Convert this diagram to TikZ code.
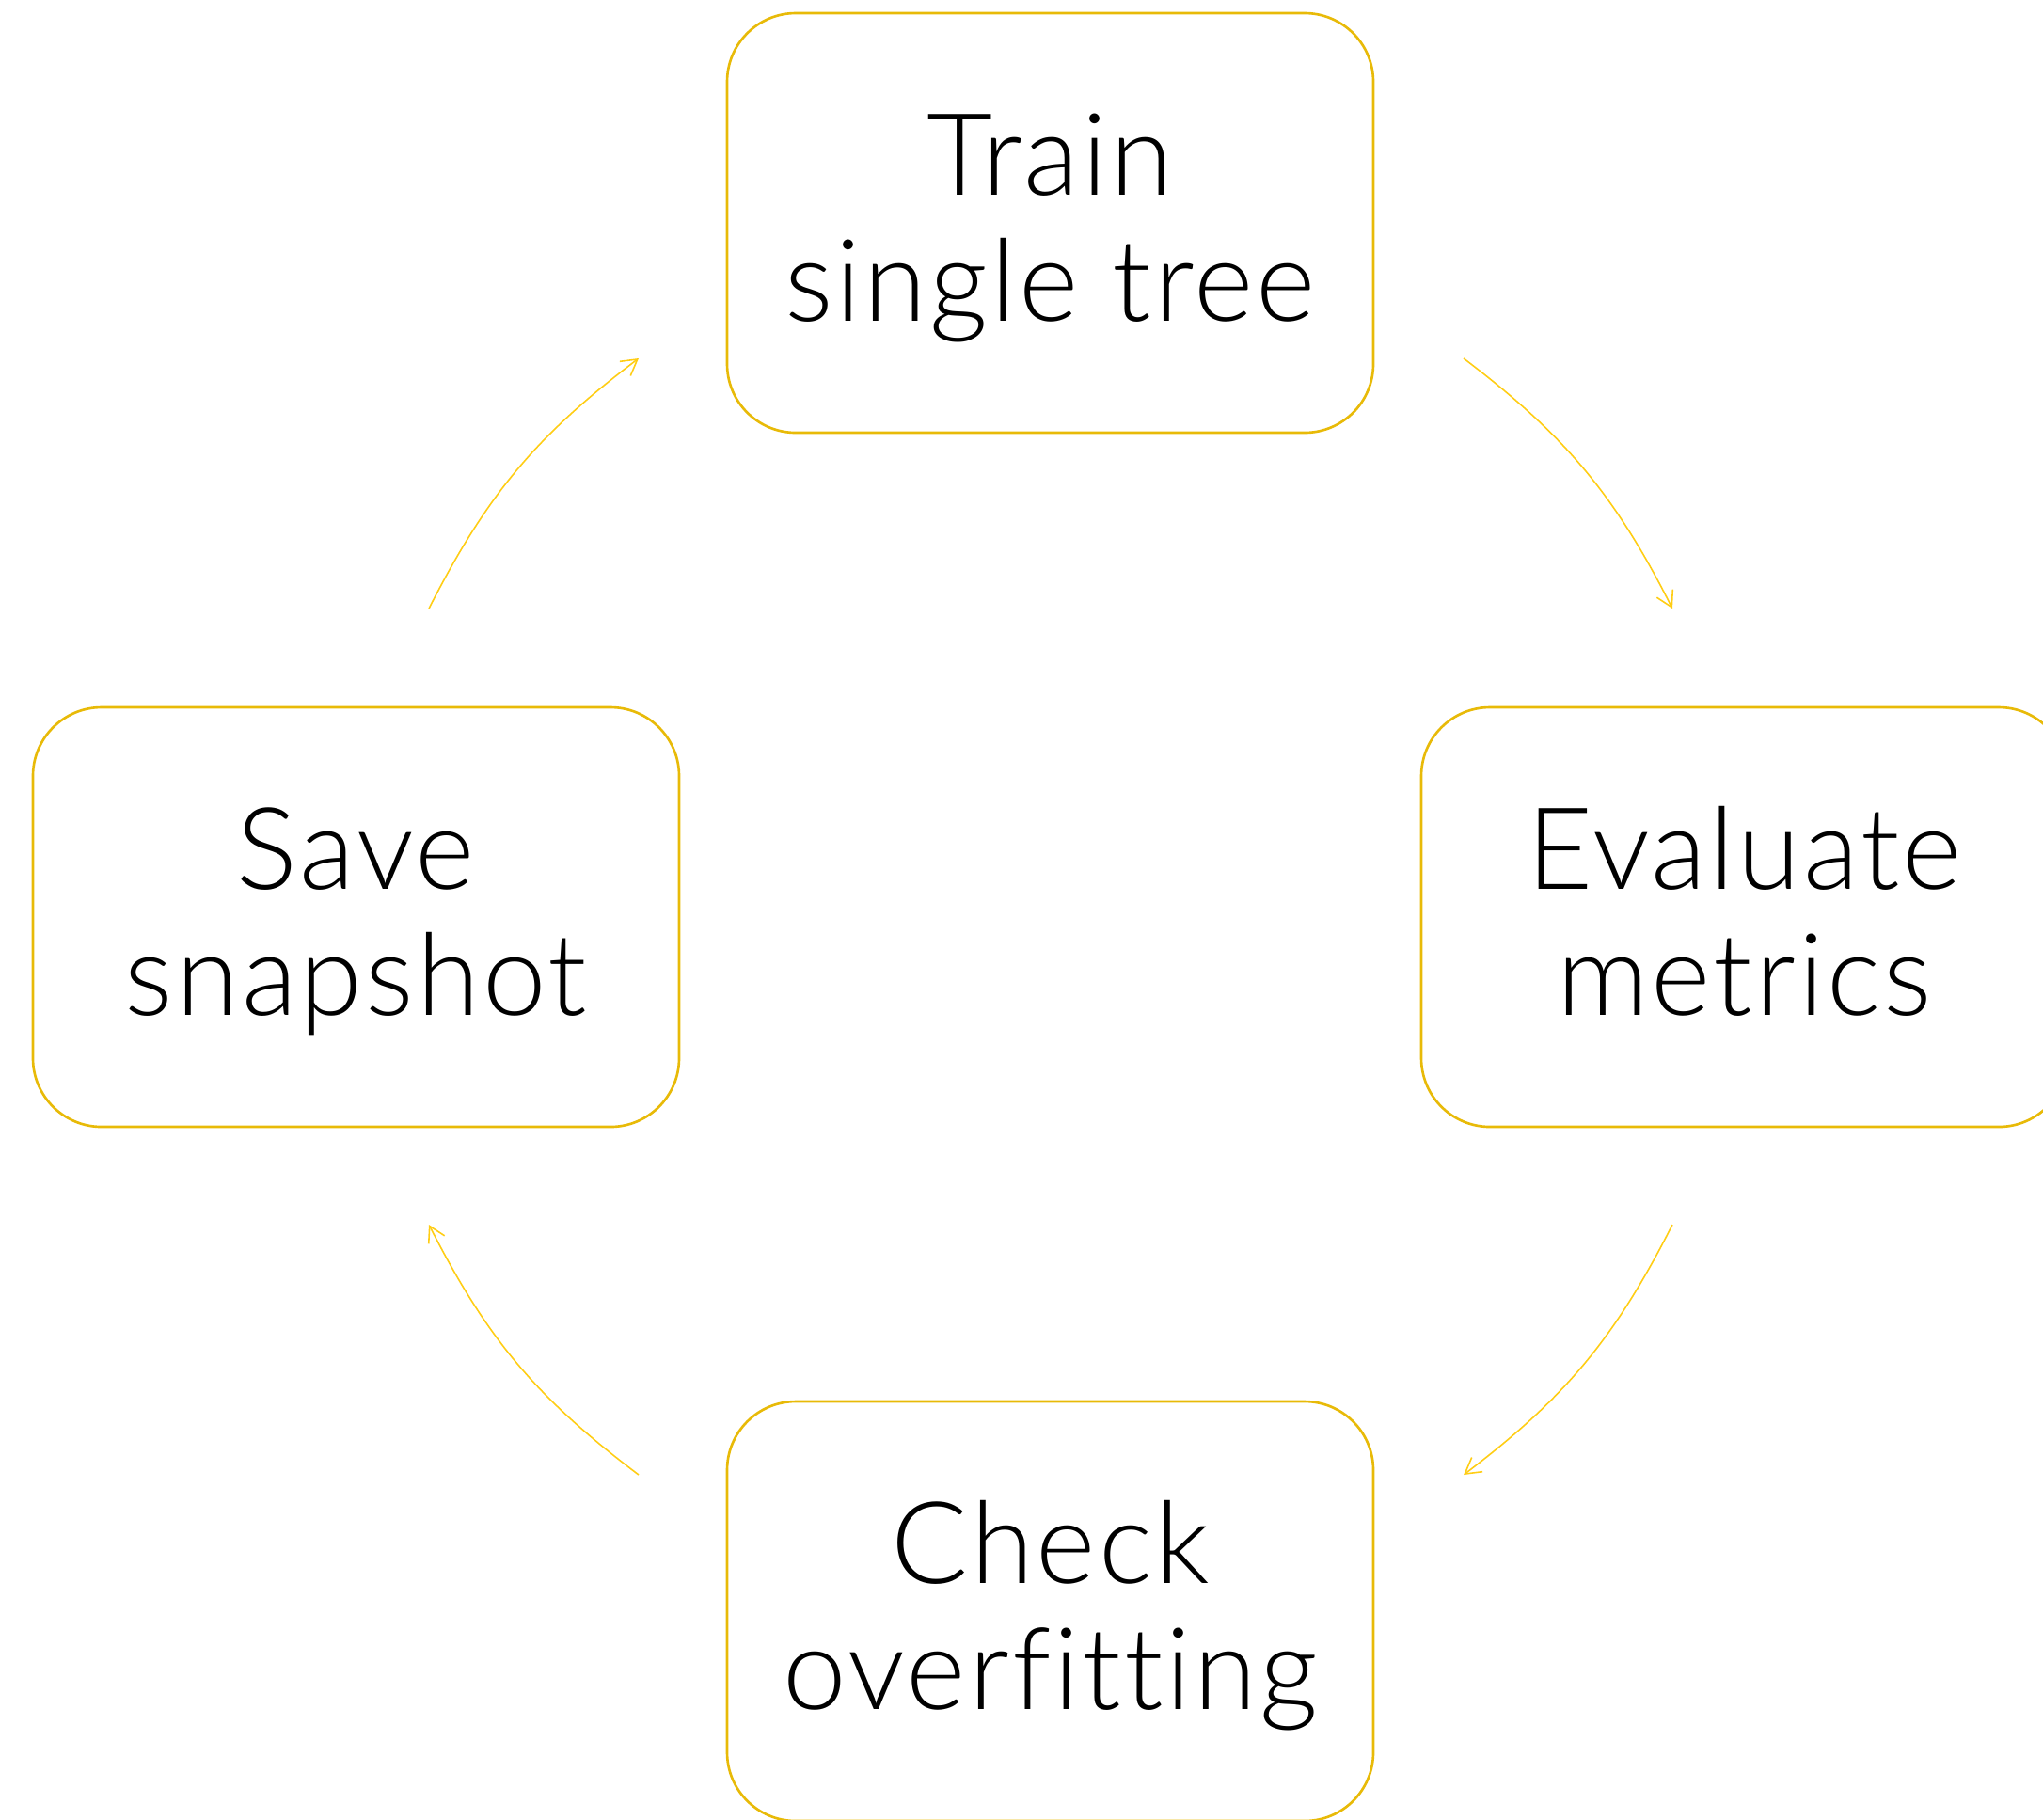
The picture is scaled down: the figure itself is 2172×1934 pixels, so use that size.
\documentclass[tikz,border=0pt]{standalone}
\usepackage{fontspec}
\setmainfont{Lato}[UprightFont=* Light, RawFeature={-liga}, LetterSpace=2.5]
\usetikzlibrary{arrows.meta}
\definecolor{boxgold}{RGB}{232,186,8}
\definecolor{arrowgold}{RGB}{255,205,20}
\newcommand{\twolines}[2]{\raisebox{-1.06mm}[\height][\depth]{\begin{tabular}{@{}c@{}}#1\\#2\end{tabular}}}
\tikzset{
  stepbox/.style={draw=boxgold, line width=0.75pt, rounded corners=7.3mm,
    minimum width=68.7mm, minimum height=44.6mm, inner sep=0pt,
    align=center, text=black, font=\fontsize{34.5}{38.3}\selectfont},
  cyc/.style={draw=arrowgold, line width=0.45pt,
    -{Straight Barb[length=1.65mm, width=1.9mm, line width=0.45pt]}}
}
\begin{document}
\begin{tikzpicture}[x=0.1mm, y=-0.1mm]
\useasboundingbox (0,0) rectangle (2172,1934);
\clip (0,0) rectangle (2172,1934);
\node[stepbox] (train) at (1116.5,237) {\twolines{Train}{single tree}};
\node[stepbox] (eval) at (1854.5,975) {\twolines{Evaluate}{metrics}};
\node[stepbox] (check) at (1116.5,1713) {\twolines{Check}{overfitting}};
\node[stepbox] (save) at (378.5,975) {\twolines{Save}{snapshot}};
\coordinate (a1s) at (1556,381);
\coordinate (a1e) at (1778,647);
\coordinate (a2s) at (1778,1302);
\coordinate (a2e) at (1556,1568);
\coordinate (a3s) at (679,1568);
\coordinate (a3e) at (456,1302);
\coordinate (a4s) at (456,647);
\coordinate (a4e) at (679,381);
\draw[cyc] (a1s) to[bend left=13] (a1e);
\draw[cyc] (a2s) to[bend left=13] (a2e);
\draw[cyc] (a3s) to[bend left=13] (a3e);
\draw[cyc] (a4s) to[bend left=13] (a4e);
\end{tikzpicture}
\end{document}
